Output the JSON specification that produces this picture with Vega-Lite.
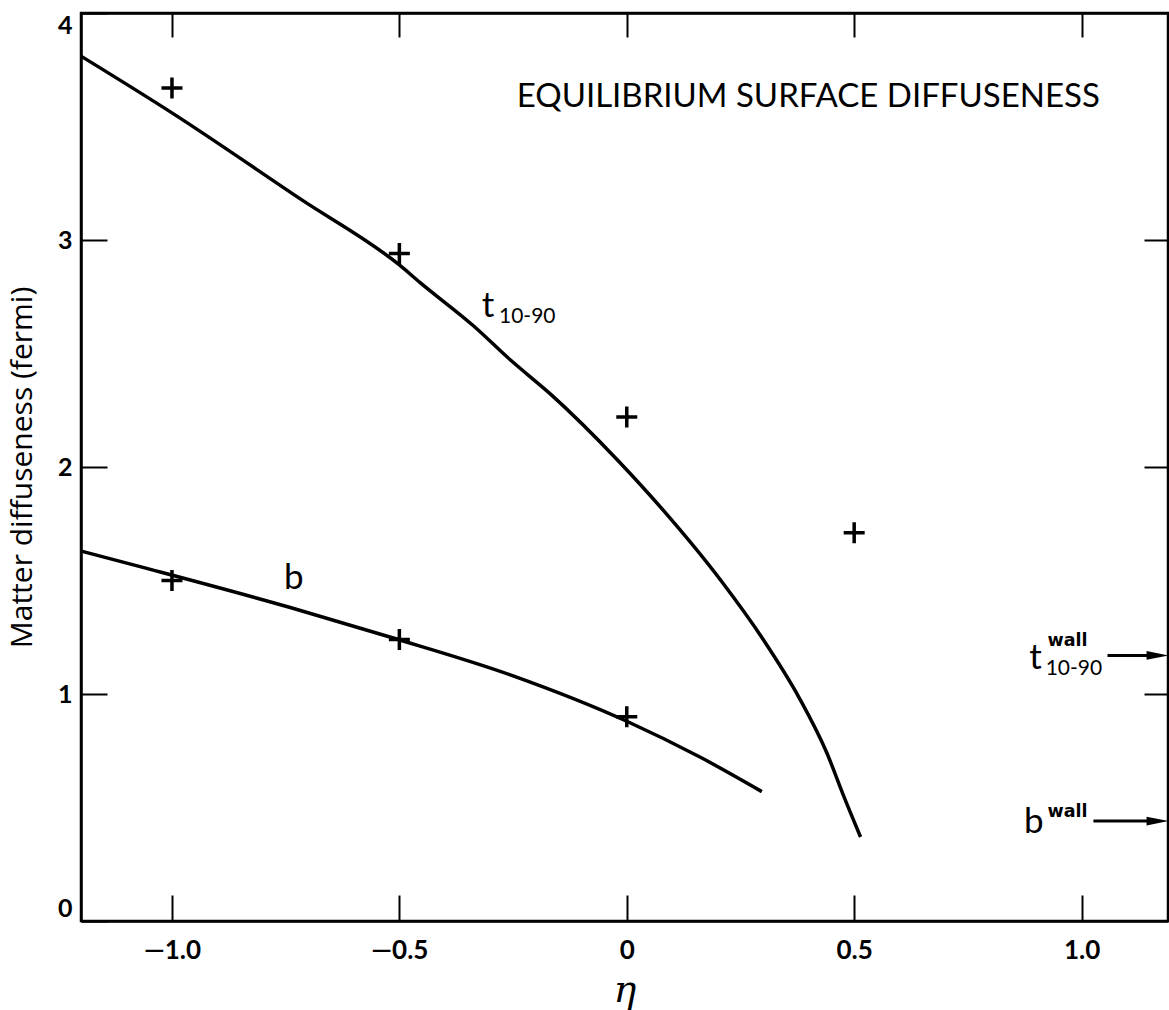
{
  "$schema": "https://vega.github.io/schema/vega-lite/v6.json",
  "width": 1087,
  "height": 908,
  "autosize": "none",
  "padding": {"left": 81, "top": 13, "right": 1, "bottom": 89},
  "background": "white",
  "config": {
    "view": {"stroke": "black", "strokeWidth": 2.5},
    "axis": {
      "grid": false,
      "domainColor": "black",
      "domainWidth": 2.5,
      "tickColor": "black",
      "tickWidth": 2,
      "labelColor": "black",
      "labelFont": "Lato",
      "titleColor": "black"
    }
  },
  "resolve": {"axis": {"x": "independent", "y": "independent"}},
  "layer": [
    {
      "data": {"values": [
        {"eta": -1.2, "val": 3.81}, {"eta": -1.0, "val": 3.56}, {"eta": -0.717, "val": 3.18},
        {"eta": -0.5, "val": 2.89}, {"eta": -0.453, "val": 2.81}, {"eta": -0.336, "val": 2.62},
        {"eta": -0.255, "val": 2.47}, {"eta": -0.167, "val": 2.32}, {"eta": -0.02, "val": 2.03},
        {"eta": 0.08, "val": 1.81}, {"eta": 0.207, "val": 1.5}, {"eta": 0.3, "val": 1.24},
        {"eta": 0.38, "val": 0.98}, {"eta": 0.44, "val": 0.74}, {"eta": 0.477, "val": 0.55},
        {"eta": 0.514, "val": 0.37}
      ]},
      "mark": {"type": "line", "color": "black", "strokeWidth": 3.5, "interpolate": "monotone"},
      "encoding": {
        "x": {
          "field": "eta", "type": "quantitative",
          "scale": {"domain": [-1.2, 1.19], "nice": false, "zero": false},
          "axis": {
            "orient": "bottom", "values": [-1, -0.5, 0, 0.5, 1],
            "tickSize": -26, "labelPadding": 42, "labelFontSize": 26, "labelFontWeight": "bold",
            "labelExpr": "datum.value < 0 ? '\u2014' + format(-datum.value, '.1f') + '\u2003' : (datum.value == 0 ? '0' : format(datum.value, '.1f'))",
            "title": "η", "titleFont": "DejaVu Serif", "titleFontStyle": "italic",
            "titleFontWeight": "normal", "titleFontSize": 38, "titlePadding": 8
          }
        },
        "y": {
          "field": "val", "type": "quantitative",
          "scale": {"domain": [0, 4], "nice": false, "zero": false},
          "axis": {
            "orient": "left", "values": [0, 1, 2, 3, 4],
            "tickSize": -26, "labelPadding": 35, "labelFontSize": 25, "labelFontWeight": "bold",
            "labelFlush": true,
            "title": "Matter diffuseness (fermi)", "titleFont": "Open Sans", "titleFontWeight": "normal",
            "titleFontSize": 30, "titlePadding": 20
          }
        }
      }
    },
    {
      "data": {"values": [
        {"eta": -1.2, "val": 1.63}, {"eta": -1.068, "val": 1.56}, {"eta": -0.738, "val": 1.38},
        {"eta": -0.519, "val": 1.25}, {"eta": -0.25, "val": 1.08}, {"eta": 0.0, "val": 0.88},
        {"eta": 0.163, "val": 0.72}, {"eta": 0.297, "val": 0.57}
      ]},
      "mark": {"type": "line", "color": "black", "strokeWidth": 3.5, "interpolate": "monotone"},
      "encoding": {
        "x": {
          "field": "eta", "type": "quantitative",
          "scale": {"domain": [-1.2, 1.19], "nice": false, "zero": false},
          "axis": {"orient": "top", "values": [-1, -0.5, 0, 0.5, 1], "tickSize": -24, "labels": false, "title": null}
        },
        "y": {
          "field": "val", "type": "quantitative",
          "scale": {"domain": [0, 4], "nice": false, "zero": false},
          "axis": {"orient": "right", "values": [1, 2, 3], "tickSize": -24, "labels": false, "title": null}
        }
      }
    },
    {
      "data": {"values": [
        {"eta": -1.0, "val": 3.67}, {"eta": -0.5, "val": 2.94}, {"eta": 0.0, "val": 2.22},
        {"eta": 0.5, "val": 1.71}, {"eta": -1.0, "val": 1.5}, {"eta": -0.5, "val": 1.24},
        {"eta": 0.0, "val": 0.9}
      ]},
      "mark": {"type": "point", "shape": "M-1,0H1M0,-1V1", "filled": false, "stroke": "black", "strokeWidth": 3.5, "size": 441, "opacity": 1},
      "encoding": {
        "x": {"field": "eta", "type": "quantitative", "axis": null},
        "y": {"field": "val", "type": "quantitative", "axis": null}
      }
    },
    {
      "data": {"values": [
        {"eta": 1.04, "val": 3.63, "label": "EQUILIBRIUM SURFACE DIFFUSENESS"}
      ]},
      "mark": {"type": "text", "font": "Lato", "fontSize": 33, "align": "right", "baseline": "middle", "color": "black"},
      "encoding": {
        "x": {"field": "eta", "type": "quantitative", "axis": null},
        "y": {"field": "val", "type": "quantitative", "axis": null},
        "text": {"field": "label"}
      }
    },
    {
      "data": {"values": [
        {"eta": -0.305, "val": 2.71, "label": "t"},
        {"eta": -0.732, "val": 1.51, "label": "b"},
        {"eta": 0.899, "val": 1.16, "label": "t"},
        {"eta": 0.895, "val": 0.436, "label": "b"}
      ]},
      "mark": {"type": "text", "font": "Lato", "fontSize": 35, "align": "center", "baseline": "middle", "color": "black"},
      "encoding": {
        "x": {"field": "eta", "type": "quantitative", "axis": null},
        "y": {"field": "val", "type": "quantitative", "axis": null},
        "text": {"field": "label"}
      }
    },
    {
      "data": {"values": [
        {"eta": -0.281, "val": 2.66, "label": "10-90"},
        {"eta": 0.921, "val": 1.11, "label": "10-90"}
      ]},
      "mark": {"type": "text", "font": "Lato", "fontSize": 21, "align": "left", "baseline": "middle", "color": "black"},
      "encoding": {
        "x": {"field": "eta", "type": "quantitative", "axis": null},
        "y": {"field": "val", "type": "quantitative", "axis": null},
        "text": {"field": "label"}
      }
    },
    {
      "data": {"values": [
        {"eta": 0.925, "val": 1.233, "label": "wall"},
        {"eta": 0.925, "val": 0.48, "label": "wall"}
      ]},
      "mark": {"type": "text", "font": "DejaVu Sans", "fontSize": 17.5, "fontWeight": "bold", "align": "left", "baseline": "middle", "color": "black"},
      "encoding": {
        "x": {"field": "eta", "type": "quantitative", "axis": null},
        "y": {"field": "val", "type": "quantitative", "axis": null},
        "text": {"field": "label"}
      }
    },
    {
      "data": {"values": [
        {"start": 1.057, "end": 1.16, "val": 1.17},
        {"start": 1.026, "end": 1.16, "val": 0.44}
      ]},
      "mark": {"type": "rule", "color": "black", "strokeWidth": 3},
      "encoding": {
        "x": {"field": "start", "type": "quantitative", "axis": null},
        "x2": {"field": "end"},
        "y": {"field": "val", "type": "quantitative", "axis": null}
      }
    },
    {
      "data": {"values": [
        {"eta": 1.167, "val": 1.17},
        {"eta": 1.167, "val": 0.44}
      ]},
      "mark": {"type": "point", "shape": "M-1,-0.4L1,0L-1,0.4Z", "filled": true, "color": "black", "size": 484, "opacity": 1},
      "encoding": {
        "x": {"field": "eta", "type": "quantitative", "axis": null},
        "y": {"field": "val", "type": "quantitative", "axis": null}
      }
    }
  ]
}
